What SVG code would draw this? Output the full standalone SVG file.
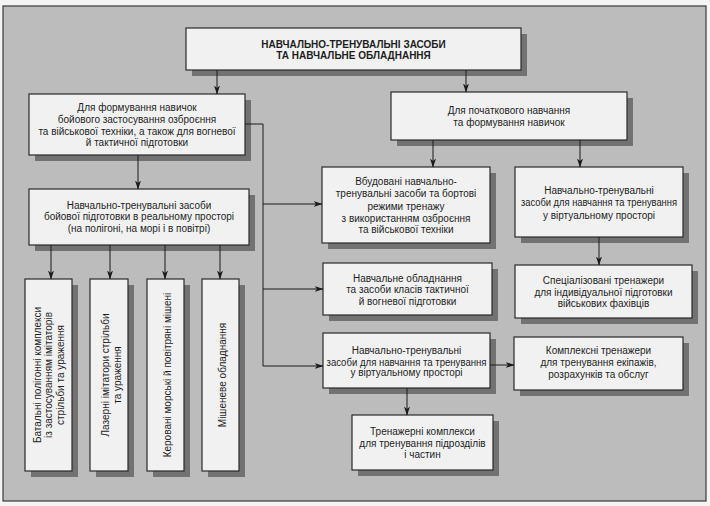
<svg xmlns="http://www.w3.org/2000/svg" width="710" height="506" viewBox="0 0 710 506">
<defs>
<marker id="ah" markerWidth="9" markerHeight="6" refX="8.5" refY="3" orient="auto" markerUnits="userSpaceOnUse">
<path d="M0,0 L9,3 L0,6 L2.5,3 Z" fill="#1a1a1a"/>
</marker>
</defs>
<style>
.bx{fill:#f1f1f1;stroke:#2a2a2a;stroke-width:1.2}
.sh{fill:#727272}
.t{font-family:"Liberation Sans",Arial,sans-serif;font-size:10px;fill:#1e1e1e;text-anchor:middle}
.tt{font-family:"Liberation Sans",Arial,sans-serif;font-size:10px;font-weight:bold;fill:#1e1e1e;text-anchor:middle}
.c{fill:none;stroke:#1a1a1a;stroke-width:1}
</style>
<rect x="0" y="0" width="710" height="506" fill="#f4f4f4"/>
<rect x="3" y="6" width="703" height="495" fill="#bcbcbc" stroke="#3a3a3a" stroke-width="1.2"/>

<g id="top">
<rect class="sh" x="192" y="34" width="335" height="42"/>
<rect class="bx" x="186" y="28" width="335" height="42"/>
<text class="tt" x="353.5" y="48">НАВЧАЛЬНО-ТРЕНУВАЛЬНІ ЗАСОБИ</text>
<text class="tt" x="353.5" y="59">ТА НАВЧАЛЬНЕ ОБЛАДНАННЯ</text>
</g>

<g id="boxA">
<rect class="sh" x="35" y="100" width="216" height="61"/>
<rect class="bx" x="29" y="94" width="216" height="61"/>
<text class="t" x="137" y="110.5">Для формування навичок</text>
<text class="t" x="137" y="122.5">бойового застосування озброєння</text>
<text class="t" x="137" y="134.5">та військової техніки, а також для вогневої</text>
<text class="t" x="137" y="146">й тактичної підготовки</text>
</g>

<g id="boxB">
<rect class="sh" x="397" y="98" width="236" height="48"/>
<rect class="bx" x="391" y="92" width="236" height="48"/>
<text class="t" x="509" y="113.5">Для початкового навчання</text>
<text class="t" x="509" y="125.5">та формування навичок</text>
</g>

<g id="boxC">
<rect class="sh" x="35" y="195" width="220" height="56"/>
<rect class="bx" x="29" y="189" width="220" height="56"/>
<text class="t" x="139" y="208.5">Навчально-тренувальні засоби</text>
<text class="t" x="139" y="220">бойової підготовки в реальному просторі</text>
<text class="t" x="139" y="231.5">(на полігоні, на морі і в повітрі)</text>
</g>

<g id="v1">
<rect class="sh" x="31" y="285" width="47" height="192"/>
<rect class="bx" x="25" y="279" width="47" height="192"/>
<g transform="translate(48.5,375) rotate(-90)">
<text class="t" x="0" y="-8">Батальні полігонні комплекси</text>
<text class="t" x="0" y="3.5">із застосуванням імітаторів</text>
<text class="t" x="0" y="15">стрільби та ураження</text>
</g>
</g>

<g id="v2">
<rect class="sh" x="96" y="285" width="38" height="192"/>
<rect class="bx" x="90" y="279" width="38" height="192"/>
<g transform="translate(109,375) rotate(-90)">
<text class="t" x="0" y="-0.5">Лазерні імітатори стрільби</text>
<text class="t" x="0" y="12">та ураження</text>
</g>
</g>

<g id="v3">
<rect class="sh" x="153" y="285" width="37" height="192"/>
<rect class="bx" x="147" y="279" width="37" height="192"/>
<g transform="translate(165.5,375) rotate(-90)">
<text class="t" x="0" y="5">Керовані морські й повітряні мішені</text>
</g>
</g>

<g id="v4">
<rect class="sh" x="208" y="285" width="37" height="192"/>
<rect class="bx" x="202" y="279" width="37" height="192"/>
<g transform="translate(220.5,375) rotate(-90)">
<text class="t" x="0" y="5">Мішеневе обладнання</text>
</g>
</g>

<g id="boxD">
<rect class="sh" x="328" y="173" width="168" height="76"/>
<rect class="bx" x="322" y="167" width="168" height="76"/>
<text class="t" x="406" y="184.5">Вбудовані навчально-</text>
<text class="t" x="406" y="197">тренувальні засоби та бортові</text>
<text class="t" x="406" y="209.5">режими тренажу</text>
<text class="t" x="406" y="221.5">з використанням озброєння</text>
<text class="t" x="406" y="233">та військової техніки</text>
</g>

<g id="boxE">
<rect class="sh" x="521" y="173" width="168" height="70"/>
<rect class="bx" x="515" y="167" width="168" height="70"/>
<text class="t" x="599" y="193.5">Навчально-тренувальні</text>
<text class="t" x="599" y="206" textLength="156" lengthAdjust="spacingAndGlyphs">засоби для навчання та тренування</text>
<text class="t" x="599" y="218.5">у віртуальному просторі</text>
</g>

<g id="boxF">
<rect class="sh" x="329" y="269" width="169" height="52"/>
<rect class="bx" x="323" y="263" width="169" height="52"/>
<text class="t" x="407.5" y="281.5">Навчальне обладнання</text>
<text class="t" x="407.5" y="293">та засоби класів тактичної</text>
<text class="t" x="407.5" y="304.5">й вогневої підготовки</text>
</g>

<g id="boxG">
<rect class="sh" x="521" y="271" width="177" height="53"/>
<rect class="bx" x="515" y="265" width="177" height="53"/>
<text class="t" x="603.5" y="283.5">Спеціалізовані тренажери</text>
<text class="t" x="603.5" y="295.5">для індивідуальної підготовки</text>
<text class="t" x="603.5" y="306.5">військових фахівців</text>
</g>

<g id="boxH">
<rect class="sh" x="329" y="339" width="167" height="55"/>
<rect class="bx" x="323" y="333" width="167" height="55"/>
<text class="t" x="406.5" y="353.5">Навчально-тренувальні</text>
<text class="t" x="406.5" y="365.5" textLength="160" lengthAdjust="spacingAndGlyphs">засоби для навчання та тренування</text>
<text class="t" x="406.5" y="376">у віртуальному просторі</text>
</g>

<g id="boxI">
<rect class="sh" x="520" y="343" width="169" height="53"/>
<rect class="bx" x="514" y="337" width="169" height="53"/>
<text class="t" x="598.5" y="353.5">Комплексні тренажери</text>
<text class="t" x="598.5" y="365.5">для тренування екіпажів,</text>
<text class="t" x="598.5" y="377.5">розрахунків та обслуг</text>
</g>

<g id="boxJ">
<rect class="sh" x="358" y="421" width="141" height="55"/>
<rect class="bx" x="352" y="415" width="141" height="55"/>
<text class="t" x="422.5" y="434.5">Тренажерні комплекси</text>
<text class="t" x="422.5" y="446.5">для тренування підрозділів</text>
<text class="t" x="422.5" y="457.5">і частин</text>
</g>

<g id="connectors">
<path class="c" d="M217,70 V94" marker-end="url(#ah)"/>
<path class="c" d="M466,70 V92" marker-end="url(#ah)"/>
<path class="c" d="M138,155 V189" marker-end="url(#ah)"/>
<path class="c" d="M51,245 V279" marker-end="url(#ah)"/>
<path class="c" d="M110,245 V279" marker-end="url(#ah)"/>
<path class="c" d="M165,245 V279" marker-end="url(#ah)"/>
<path class="c" d="M220,245 V279" marker-end="url(#ah)"/>
<path class="c" d="M245,124 H263 V366"/>
<path class="c" d="M263,204 H322" marker-end="url(#ah)"/>
<path class="c" d="M263,289 H323" marker-end="url(#ah)"/>
<path class="c" d="M263,366 H323" marker-end="url(#ah)"/>
<path class="c" d="M433,140 V167" marker-end="url(#ah)"/>
<path class="c" d="M580,140 V167" marker-end="url(#ah)"/>
<path class="c" d="M599,237 V265" marker-end="url(#ah)"/>
<path class="c" d="M490,365 H514" marker-end="url(#ah)"/>
<path class="c" d="M407,388 V415" marker-end="url(#ah)"/>
</g>
</svg>
